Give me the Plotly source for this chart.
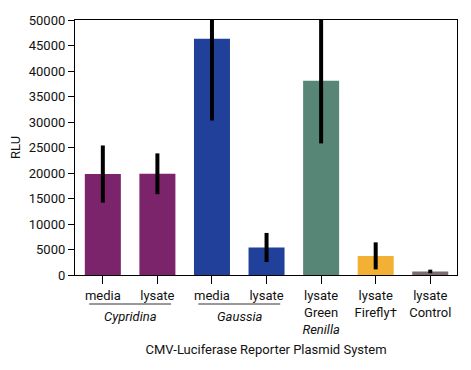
import plotly.graph_objects as go

tick_labels = ["media", "lysate", "media", "lysate",
               "lysate<br>Green<br><i>Renilla</i>", "lysate<br>Firefly†", "lysate<br>Control"]
values = [19800, 19850, 46300, 5400, 38100, 3750, 700]
errors = [5600, 4000, 16000, 2850, 12300, 2650, 350]
colors = ["#7b236b", "#7b236b", "#21409a", "#21409a", "#578676", "#f2b134", "#7d6b71"]
group_labels = ["Cypridina", "Gaussia"]
y_ticks = list(range(0, 50001, 5000))

x = list(range(len(values)))
FONT = "Roboto, Liberation Sans, sans-serif"
FS = 13

# page body has an 8px default margin; figure is offset by (8, 8)
OFF = 8
W, H = 471 - OFF, 370 - OFF
plot_left, plot_right, plot_top, plot_bot = 75, 457, 20, 275

fig = go.Figure(go.Bar(
    x=x, y=values, width=0.66,
    marker=dict(color=colors, line=dict(width=0)),
    error_y=dict(type="data", array=errors, visible=True, color="black", thickness=4, width=0),
))

fig.update_layout(
    template="none",
    width=W, height=H,
    margin=dict(l=plot_left - OFF, r=W - (plot_right - OFF), t=plot_top - OFF, b=H - (plot_bot - OFF)),
    paper_bgcolor="white", plot_bgcolor="white",
    font=dict(family=FONT, size=FS, color="#111"),
    showlegend=False,
    xaxis=dict(
        automargin=False,
        tickmode="array", tickvals=x, ticktext=tick_labels,
        range=[-0.51, 6.49], showline=True, mirror=True, linecolor="black", linewidth=1.3,
        ticks="outside", ticklen=8, tickcolor="black", showgrid=False, zeroline=False,
        title=dict(text="CMV-Luciferase Reporter Plasmid System", standoff=9, font=dict(size=FS)),
        fixedrange=True,
    ),
    yaxis=dict(
        automargin=False,
        range=[0, 50000], tickvals=y_ticks, ticktext=[str(v) for v in y_ticks],
        showline=True, mirror=True, linecolor="black", linewidth=1.3,
        ticks="outside", ticklen=6, tickcolor="black", showgrid=False, zeroline=False,
        title=dict(text="RLU", standoff=6, font=dict(size=FS)),
    ),
)

def py(p):
    return (plot_bot - p) / (plot_bot - plot_top)

for i, name in enumerate(group_labels):
    c = 2 * i + 0.5
    fig.add_annotation(x=c, y=py(316.7), xref="x", yref="paper", yanchor="middle", showarrow=False,
                       text=f"<i>{name}</i>", font=dict(size=FS))
    fig.add_shape(type="line", xref="x", yref="paper", x0=c - 0.75, x1=c + 0.75, y0=py(304), y1=py(304),
                  line=dict(color="#333", width=1))

fig.write_html("out.html")
